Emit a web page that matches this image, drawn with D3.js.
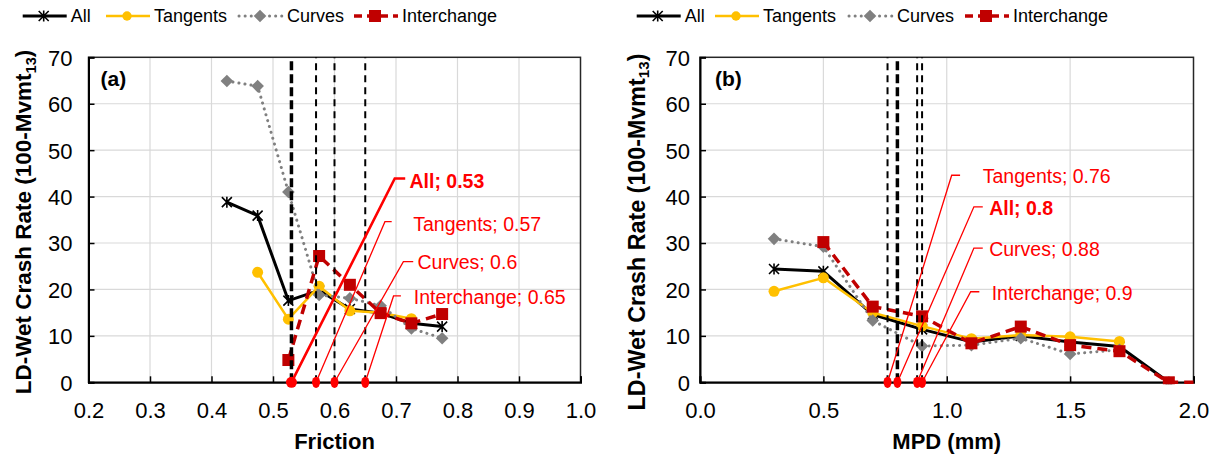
<!DOCTYPE html>
<html>
<head>
<meta charset="utf-8">
<script src="https://cdn.jsdelivr.net/npm/d3@7"></script>
<style>
  html, body { margin: 0; padding: 0; background: #fff; }
  svg { display: block; font-family: Arial, "Liberation Sans", sans-serif; }
</style>
</head>
<body>
<svg id="chart" width="1221" height="457"></svg>
<script>
// ---- Data -------------------------------------------------------------
const seriesNames = ["All", "Tangents", "Curves", "Interchange"];

// Panel (a): crash rate by friction bin
const frictionX = [0.425, 0.475, 0.525, 0.575, 0.625, 0.675, 0.725, 0.775];
const frictionAll = [38.8, 35.9, 17.6, 19.8, 15.8, 14.9, 12.7, 12.0];
const frictionTangents = [null, 23.7, 13.6, 20.7, 15.4, 15.0, 13.7, null];
const frictionCurves = [64.9, 63.8, 41.0, 18.8, 18.1, 16.5, 11.6, 9.5];
const frictionInterchange = [null, null, 4.8, 27.2, 21.0, 14.9, 12.7, 14.7];
const frictionThresholdNames = ["All", "Tangents", "Curves", "Interchange"];
const frictionThresholds = [0.53, 0.57, 0.6, 0.65];
const frictionTicks = [0.2, 0.3, 0.4, 0.5, 0.6, 0.7, 0.8, 0.9, 1.0];

// Panel (b): crash rate by MPD bin
const mpdX = [0.3, 0.5, 0.7, 0.9, 1.1, 1.3, 1.5, 1.7, 1.9, 2.1];
const mpdAll = [24.4, 23.9, 14.6, 11.4, 8.7, 10.0, 8.7, 7.7, 0, null];
const mpdTangents = [19.6, 22.5, 15.0, 12.1, 9.4, 10.2, 9.8, 8.8, null, null];
const mpdCurves = [30.9, 29.2, 13.3, 7.8, 8.0, 9.5, 6.1, 7.0, null, null];
const mpdInterchange = [null, 30.2, 16.3, 14.2, 8.4, 12.0, 8.0, 6.7, 0, 0];
const mpdThresholdNames = ["Tangents", "All", "Curves", "Interchange"];
const mpdThresholds = [0.76, 0.8, 0.88, 0.9];
const mpdTicks = [0.0, 0.5, 1.0, 1.5, 2.0];

const yTicks = [0, 10, 20, 30, 40, 50, 60, 70];

// ---- Styles -------------------------------------------------------------
const styles = {
  All:         { color: "#000000", width: 3,   dash: null,     cap: "butt",  marker: "star" },
  Tangents:    { color: "#FFC000", width: 2.5, dash: null,     cap: "butt",  marker: "circle" },
  Curves:      { color: "#808080", width: 3,   dash: "0.1,6",  cap: "round", marker: "diamond" },
  Interchange: { color: "#C00000", width: 3.5, dash: "10,6",   cap: "butt",  marker: "square" }
};
const RED = "#FF0000";

const svg = d3.select("#chart");

function drawMarker(g, type, color, x, y, scale = 1) {
  if (type === "star") {
    const s = 5 * scale;
    g.append("path")
      .attr("d", `M${x - s},${y - s}L${x + s},${y + s}M${x - s},${y + s}L${x + s},${y - s}M${x},${y - s - 0.5}L${x},${y + s + 0.5}`)
      .attr("stroke", color).attr("stroke-width", 1.6).attr("fill", "none");
  } else if (type === "circle") {
    g.append("circle").attr("cx", x).attr("cy", y).attr("r", 5.5 * scale).attr("fill", color);
  } else if (type === "diamond") {
    const s = 6.3 * scale;
    g.append("path").attr("d", `M${x},${y - s}L${x + s},${y}L${x},${y + s}L${x - s},${y}Z`).attr("fill", color);
  } else if (type === "square") {
    const s = 6 * scale;
    g.append("rect").attr("x", x - s).attr("y", y - s).attr("width", 2 * s).attr("height", 2 * s).attr("fill", color);
  }
}

function drawPanel(cfg) {
  const x = d3.scaleLinear().domain(cfg.xDomain).range(cfg.xRange);
  const y = d3.scaleLinear().domain([0, 70]).range([382.3, 57.3]);
  const [x0, x1] = cfg.xRange;
  const [yb, yt] = y.range();
  const g = svg.append("g");

  const clipId = "clip-" + cfg.id;
  svg.append("clipPath").attr("id", clipId)
    .append("rect").attr("x", x0).attr("y", yt - 2).attr("width", x1 - x0).attr("height", yb - yt + 4);

  // gridlines
  g.append("g").selectAll("line.h").data(yTicks.filter(t => t > 0 && t < 70)).join("line")
    .attr("x1", x0).attr("x2", x1).attr("y1", d => y(d)).attr("y2", d => y(d))
    .attr("stroke", "#D9D9D9").attr("stroke-width", 1.2);
  g.append("g").selectAll("line.v").data(cfg.xTicks.slice(1, -1)).join("line")
    .attr("x1", d => x(d)).attr("x2", d => x(d)).attr("y1", yt).attr("y2", yb)
    .attr("stroke", "#D9D9D9").attr("stroke-width", 1.2);

  // frame
  g.append("rect").attr("x", x0).attr("y", yt).attr("width", x1 - x0).attr("height", yb - yt)
    .attr("fill", "none").attr("stroke", "#262626").attr("stroke-width", 1.5);

  // axes (ticks point inward)
  const xAxis = d3.axisBottom(x).tickValues(cfg.xTicks).tickSize(-6).tickPadding(0)
    .tickFormat(d3.format(".1f"));
  const gx = g.append("g").attr("transform", `translate(0,${yb})`).call(xAxis);
  gx.select(".domain").attr("stroke", "#000").attr("stroke-width", 2);
  gx.selectAll(".tick line").attr("stroke", "#000").attr("stroke-width", 1.5);
  gx.selectAll(".tick text").attr("font-size", 22).attr("fill", "#000")
    .attr("font-family", "Arial, 'Liberation Sans', sans-serif")
    .attr("y", 35.7).attr("dy", null);

  const yAxis = d3.axisLeft(y).tickValues(yTicks).tickSize(-6).tickPadding(0);
  const gy = g.append("g").attr("transform", `translate(${x0},0)`).call(yAxis);
  gy.select(".domain").attr("stroke", "#000").attr("stroke-width", 2);
  gy.selectAll(".tick line").attr("stroke", "#000").attr("stroke-width", 1.5);
  gy.selectAll(".tick text").attr("font-size", 22).attr("fill", "#000")
    .attr("font-family", "Arial, 'Liberation Sans', sans-serif")
    .attr("x", -cfg.yLabelGap).attr("dy", "0.36em");

  // series
  const plot = g.append("g").attr("clip-path", `url(#${clipId})`);
  cfg.series.forEach((vals, i) => {
    const name = seriesNames[i];
    const st = styles[name];
    const pts = cfg.xs.map((xv, j) => [xv, vals[j]]).filter(p => p[1] !== null);
    const line = d3.line().x(p => x(p[0])).y(p => y(p[1]));
    plot.append("path").attr("d", line(pts)).attr("fill", "none")
      .attr("stroke", st.color).attr("stroke-width", st.width)
      .attr("stroke-dasharray", st.dash).attr("stroke-linecap", st.cap)
      .attr("stroke-linejoin", "round");
    const mg = plot.append("g");
    pts.forEach(p => drawMarker(mg, st.marker, st.color, x(p[0]), y(p[1])));
  });

  // threshold lines
  cfg.thresholds.forEach((v, i) => {
    const isAll = cfg.thresholdNames[i] === "All";
    g.append("line").attr("x1", x(v)).attr("x2", x(v)).attr("y1", yb).attr("y2", yt)
      .attr("stroke", "#000").attr("stroke-width", isAll ? 3.5 : 2)
      .attr("stroke-dasharray", isAll ? "9,4" : "7,5");
  });

  // threshold callouts
  cfg.thresholds.forEach((v, i) => {
    const name = cfg.thresholdNames[i];
    const isAll = name === "All";
    const c = cfg.callouts[i];
    g.append("polyline")
      .attr("points", [[x(v), yb], [x(c.cx), y(c.cy)], [x(c.ex), y(c.cy)]].map(p => p.join(",")).join(" "))
      .attr("fill", "none").attr("stroke", RED).attr("stroke-width", isAll && cfg.boldLeader ? 2.6 : 1.3);
    if (isAll && cfg.bigAllDot) {
      g.append("circle").attr("cx", x(v)).attr("cy", yb).attr("r", 5.5).attr("fill", RED);
    } else {
      g.append("ellipse").attr("cx", x(v)).attr("cy", yb).attr("rx", 4).attr("ry", 5.6).attr("fill", RED);
    }
    g.append("text").attr("x", x(c.tx)).attr("y", y(c.ty)).attr("dy", "0.35em")
      .attr("font-size", 19.5).attr("fill", RED).attr("font-weight", isAll ? "bold" : "normal")
      .text(`${name}; ${v}`);
  });

  // panel tag
  g.append("text").attr("x", x0 + cfg.tagDx).attr("y", 86).attr("font-size", 21)
    .attr("font-weight", "bold").text(cfg.tag);

  // axis titles
  g.append("text").attr("x", (x0 + x1) / 2).attr("y", 449).attr("text-anchor", "middle")
    .attr("font-size", 22).attr("font-weight", "bold").text(cfg.xTitle);
  const yt2 = g.append("text")
    .attr("transform", `translate(${cfg.yTitleX},${cfg.yTitleY}) rotate(-90)`)
    .attr("text-anchor", "middle").attr("dy", "0.35em")
    .attr("font-size", cfg.yTitleSize).attr("font-weight", "bold");
  yt2.append("tspan").text("LD-Wet Crash Rate (100-Mvmt");
  yt2.append("tspan").attr("font-size", cfg.yTitleSize * 0.65).attr("dy", "0.3em").text("13");
  yt2.append("tspan").attr("dy", "-0.2em").text(")");

  // legend
  const lg = svg.append("g");
  const ly = 16;
  cfg.legend.forEach((item, i) => {
    const name = seriesNames[i];
    const st = styles[name];
    lg.append("line").attr("x1", item.x0).attr("x2", item.x0 + 44).attr("y1", ly).attr("y2", ly)
      .attr("stroke", st.color).attr("stroke-width", st.width)
      .attr("stroke-dasharray", name === "Interchange" ? "8,5" : st.dash)
      .attr("stroke-linecap", st.cap);
    drawMarker(lg, st.marker, st.color, item.x0 + 21, ly, name === "Tangents" ? 0.85 : 1);
    lg.append("text").attr("x", item.x0 + 48).attr("y", ly).attr("dy", "0.35em")
      .attr("font-size", 18).text(name);
  });
}

drawPanel({
  id: "a", tag: "(a)", tagDx: 12,
  xDomain: [0.2, 1.0], xRange: [88.5, 580.5], xTicks: frictionTicks,
  xs: frictionX,
  series: [frictionAll, frictionTangents, frictionCurves, frictionInterchange],
  thresholds: frictionThresholds, thresholdNames: frictionThresholdNames,
  boldLeader: true, bigAllDot: true,
  callouts: [
    { cx: 0.698, cy: 43.9, ex: 0.715, tx: 0.722, ty: 43.3 },
    { cx: 0.682, cy: 34.6, ex: 0.693, tx: 0.728, ty: 34.1 },
    { cx: 0.712, cy: 26.0, ex: 0.728, tx: 0.735, ty: 25.8 },
    { cx: 0.696, cy: 18.6, ex: 0.708, tx: 0.729, ty: 18.4 }
  ],
  xTitle: "Friction", yLabelGap: 16,
  yTitleX: 23.5, yTitleY: 222, yTitleSize: 22.5,
  legend: [{ x0: 22.7 }, { x0: 106 }, { x0: 239 }, { x0: 354 }]
});

drawPanel({
  id: "b", tag: "(b)", tagDx: 15,
  xDomain: [0, 2.0], xRange: [700, 1193.5], xTicks: mpdTicks,
  xs: mpdX,
  series: [mpdAll, mpdTangents, mpdCurves, mpdInterchange],
  thresholds: mpdThresholds, thresholdNames: mpdThresholdNames,
  boldLeader: false, bigAllDot: false,
  callouts: [
    { cx: 1.020, cy: 44.6, ex: 1.054, tx: 1.146, ty: 44.3 },
    { cx: 1.110, cy: 37.8, ex: 1.146, tx: 1.172, ty: 37.5 },
    { cx: 1.110, cy: 28.9, ex: 1.146, tx: 1.172, ty: 28.7 },
    { cx: 1.097, cy: 19.5, ex: 1.132, tx: 1.182, ty: 19.2 }
  ],
  xTitle: "MPD (mm)", yLabelGap: 10,
  yTitleX: 636.5, yTitleY: 232, yTitleSize: 23.3,
  legend: [{ x0: 636.7 }, { x0: 715 }, { x0: 849 }, { x0: 965 }]
});
</script>
</body>
</html>
